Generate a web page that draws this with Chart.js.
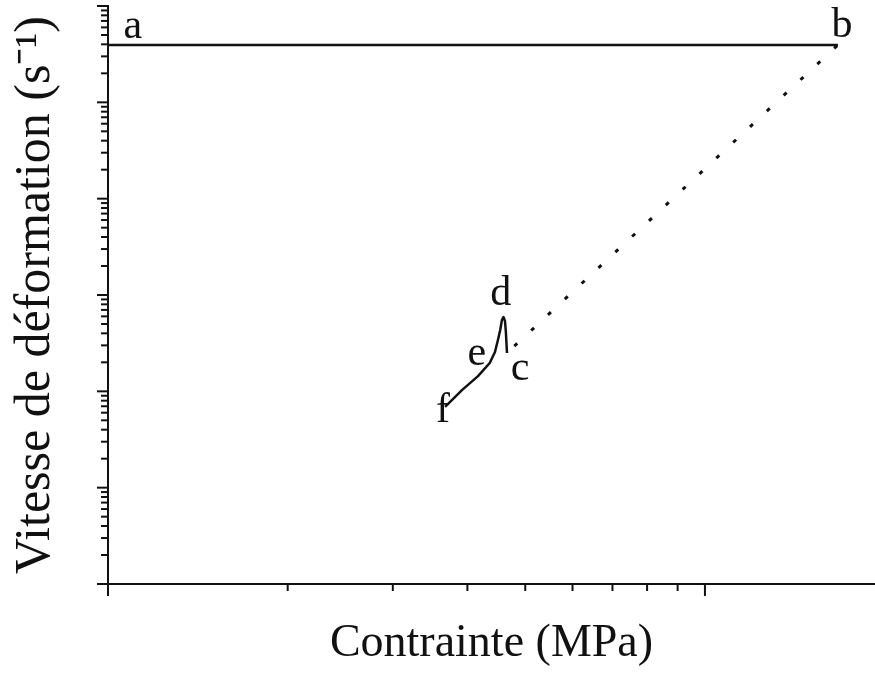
<!DOCTYPE html>
<html>
<head>
<meta charset="utf-8">
<script src="https://cdn.jsdelivr.net/npm/chart.js@4.4.1/dist/chart.umd.min.js"></script>
<style>
  html, body { margin: 0; padding: 0; background: #fff; }
  canvas { display: block; }
</style>
</head>
<body>
<canvas id="chart" width="875" height="677"></canvas>
<script>
// stress (MPa) / strain rate (s-1)
const pathAB = [{ x: 10, y: 3.94e-4 }, { x: 167, y: 3.94e-4 }];
const pathCB = [{ x: 46.6, y: 2.5e-7 }, { x: 167, y: 3.94e-4 }];
const curveX = [36.7, 39.17, 41.67, 43.6, 44.49, 45.0, 45.4, 45.7, 45.97, 46.24, 46.4, 46.6];
const curveY = [6.88e-8, 1.03e-7, 1.44e-7, 1.97e-7, 2.56e-7, 3.41e-7, 4.33e-7, 5.5e-7, 5.91e-7, 5.37e-7, 4.13e-7, 2.5e-7];

// point letters and where they sit (data units)
const labelText = ['a', 'b', 'c', 'd', 'e', 'f'];
const labelX = [11.0, 169.7, 49.0, 45.5, 41.5, 36.4];
const labelY = [4.66e-4, 4.77e-4, 1.31e-7, 7.88e-7, 1.88e-7, 4.8e-8];

const xRange = [10, 192.7];
const yRange = [1e-9, 1e-3];

const ink = '#111';
const serif = 'Liberation Serif, Times New Roman, serif';

// draw major/minor log ticks outside the axes
const logTicks = {
    id: 'logTicks',
    afterDraw(chart) {
        const c = chart.ctx;
        const area = chart.chartArea;
        const xs = chart.scales.x;
        const ys = chart.scales.y;
        c.save();
        c.strokeStyle = ink;
        c.lineWidth = 2;

        function decades(scale, cb) {
            const lo = Math.floor(Math.log10(scale.min));
            const hi = Math.ceil(Math.log10(scale.max));
            for (let e = lo; e <= hi; e++) {
                for (let m = 1; m <= 9; m++) {
                    const v = m * Math.pow(10, e);
                    if (v < scale.min * 0.9999 || v > scale.max * 1.0001) continue;
                    cb(scale.getPixelForValue(v), m === 1);
                }
            }
        }

        decades(xs, (px, major) => {
            c.beginPath();
            c.moveTo(px, area.bottom);
            c.lineTo(px, area.bottom + (major ? 12 : 7));
            c.stroke();
        });
        decades(ys, (py, major) => {
            c.beginPath();
            c.moveTo(area.left, py);
            c.lineTo(area.left - (major ? 11 : 7), py);
            c.stroke();
        });
        c.restore();
    }
};

// letters a..f
const pointLetters = {
    id: 'pointLetters',
    afterDatasetsDraw(chart) {
        const c = chart.ctx;
        c.save();
        c.fillStyle = ink;
        c.font = '42px ' + serif;
        c.textAlign = 'center';
        c.textBaseline = 'alphabetic';
        labelText.forEach((t, i) => {
            c.fillText(t, chart.scales.x.getPixelForValue(labelX[i]), chart.scales.y.getPixelForValue(labelY[i]));
        });
        c.restore();
    }
};

new Chart(document.getElementById('chart'), {
    type: 'line',
    data: {
        datasets: [
            {
                data: pathAB,
                borderColor: ink,
                borderWidth: 2.5,
                pointRadius: 0
            },
            {
                data: pathCB,
                borderColor: ink,
                borderWidth: 3,
                borderDash: [4, 19],
                borderDashOffset: 13,
                pointRadius: 0
            },
            {
                data: curveX.map((x, i) => ({ x: x, y: curveY[i] })),
                borderColor: ink,
                borderWidth: 2.5,
                tension: 0,
                borderJoinStyle: 'round',
                pointRadius: 0
            }
        ]
    },
    options: {
        responsive: false,
        devicePixelRatio: 1,
        animation: false,
        layout: { padding: { top: 6, right: 0, bottom: 0, left: 0 } },
        plugins: {
            legend: { display: false },
            tooltip: { enabled: false }
        },
        scales: {
            x: {
                type: 'logarithmic',
                min: xRange[0],
                max: xRange[1],
                grid: { display: false, drawTicks: false },
                ticks: { display: false },
                border: { display: true, color: ink, width: 2 },
                title: {
                    display: true,
                    text: 'Contrainte (MPa)',
                    color: ink,
                    font: { family: serif, size: 46, lineHeight: 1 },
                    padding: { top: 37, bottom: 10 }
                }
            },
            y: {
                type: 'logarithmic',
                min: yRange[0],
                max: yRange[1],
                grid: { display: false, drawTicks: false },
                ticks: { display: false },
                border: { display: true, color: ink, width: 2 },
                title: {
                    display: true,
                    text: 'Vitesse de déformation (s⁻¹)',
                    color: ink,
                    font: { family: serif, size: 50, lineHeight: 1 },
                    padding: { top: 11, bottom: 47 }
                }
            }
        }
    },
    plugins: [logTicks, pointLetters]
});
</script>
</body>
</html>
